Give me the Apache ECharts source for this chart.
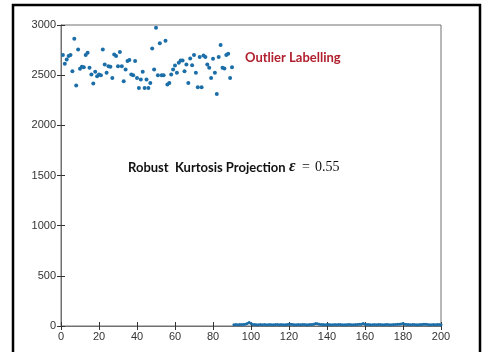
<!DOCTYPE html>
<html>
<head>
<meta charset="utf-8">
<script src="https://cdn.jsdelivr.net/npm/echarts@6/dist/echarts.min.js"></script>
<style>html,body{margin:0;padding:0;background:#fff}#c{width:486px;height:352px}</style>
</head>
<body>
<div id="c"></div>
<script>
// Outlier group: samples 1..90
const outlierValues = [2700, 2613, 2657, 2690, 2700, 2540, 2863, 2397, 2757, 2563, 2583, 2580, 2700, 2723, 2573, 2507, 2417, 2533, 2490, 2507, 2500, 2757, 2607, 2523, 2590, 2583, 2473, 2707, 2690, 2590, 2730, 2590, 2440, 2557, 2640, 2650, 2507, 2500, 2640, 2473, 2373, 2457, 2533, 2373,
  2457, 2373, 2423, 2767, 2557, 2973, 2500, 2817, 2500, 2500, 2843, 2407, 2423, 2507, 2557, 2597, 2523, 2623, 2647, 2647, 2540, 2607, 2423, 2667, 2600, 2700, 2523, 2380, 2680, 2380, 2697, 2680, 2607, 2573, 2473, 2663, 2523, 2313, 2680, 2800, 2573, 2567, 2700, 2713, 2473, 2580];
// Regular group: samples 91..200
const regularValues = [12, 14, 13, 15, 14, 16, 18, 25, 35, 24, 16, 14, 13, 12, 14, 13, 15, 13, 12, 14,
  13, 12, 14, 15, 13, 14, 12, 13, 15, 18, 17, 14, 13, 12, 14, 13, 15, 14, 13, 12,
  14, 15, 17, 26, 22, 17, 15, 14, 13, 15, 14, 13, 12, 14, 13, 15, 14, 13, 12, 13,
  14, 15, 13, 12, 14, 15, 17, 18, 25, 18, 15, 14, 13, 12, 14, 13, 15, 14, 13, 12,
  14, 15, 13, 12, 14, 15, 17, 18, 20, 24, 18, 15, 14, 13, 15, 14, 13, 12, 14, 15,
  18, 17, 14, 13, 12, 14, 13, 15, 14, 13];
const xTicks = [0, 20, 40, 60, 80, 100, 120, 140, 160, 180, 200];
const yTicks = [0, 500, 1000, 1500, 2000, 2500, 3000];

const outlierData = outlierValues.map((v, i) => [i + 1, v]);
const regularData = regularValues.map((v, i) => [outlierValues.length + 1 + i, v]);

const chart = echarts.init(document.getElementById('c'), null, {renderer: 'canvas'});
const axisLineColor = '#707070';
const labelStyle = {color: '#333', fontFamily: 'Liberation Sans, Arial, sans-serif', fontSize: 11};
const tick = {show: true, inside: true, length: 4, lineStyle: {color: '#333'}};
chart.setOption({
  animation: false,
  grid: {left: 61, top: 25, right: 45, bottom: 26, containLabel: false,
    show: true, borderColor: axisLineColor, borderWidth: 1, backgroundColor: 'transparent'},
  xAxis: [
    {type: 'value', min: xTicks[0], max: xTicks[xTicks.length - 1], interval: 20, position: 'bottom',
      axisLine: {show: true, lineStyle: {color: axisLineColor, width: 1}},
      axisTick: tick,
      axisLabel: Object.assign({margin: 5, formatter: v => String(v)}, labelStyle),
      splitLine: {show: false}},
    {type: 'value', min: xTicks[0], max: xTicks[xTicks.length - 1], interval: 20, position: 'top',
      axisLine: {show: true, lineStyle: {color: axisLineColor, width: 1}},
      axisTick: tick,
      axisLabel: {show: false}, splitLine: {show: false}}
  ],
  yAxis: [
    {type: 'value', min: yTicks[0], max: yTicks[yTicks.length - 1], interval: 500, position: 'left',
      axisLine: {show: true, lineStyle: {color: axisLineColor, width: 1}},
      axisTick: tick,
      axisLabel: Object.assign({margin: 5, formatter: v => String(v)}, labelStyle),
      splitLine: {show: false}},
    {type: 'value', min: yTicks[0], max: yTicks[yTicks.length - 1], interval: 500, position: 'right',
      axisLine: {show: true, lineStyle: {color: axisLineColor, width: 1}},
      axisTick: tick,
      axisLabel: {show: false}, splitLine: {show: false}}
  ],
  series: [
    {type: 'scatter', data: outlierData, symbol: 'circle', symbolSize: 4,
      itemStyle: {color: '#1b6ea8', opacity: 1}},
    {type: 'scatter', data: regularData, symbol: 'circle', symbolSize: 3,
      itemStyle: {color: '#1b6ea8', opacity: 1}}
  ],
  graphic: [
    {type: 'rect', shape: {x: 13, y: 5, width: 467, height: 370},
      style: {fill: 'none', stroke: '#000', lineWidth: 2.5}, silent: true},
    {type: 'text', left: 245, top: 51,
      style: {text: 'Outlier Labelling', fill: '#b0202e', font: 'bold 13px Lato, sans-serif'}},
    {type: 'text', left: 128, top: 161,
      style: {text: 'Robust  Kurtosis Projection', fill: '#111', font: 'bold 13px Lato, sans-serif'}},
    {type: 'text', left: 289, top: 159,
      style: {text: 'ε', fill: '#111', font: 'italic bold 16px "Liberation Serif", serif'}},
    {type: 'text', left: 302, top: 160,
      style: {text: '=', fill: '#111', font: '14px "Liberation Serif", serif'}},
    {type: 'text', left: 315, top: 160,
      style: {text: '0.55', fill: '#111', font: '14px "Liberation Serif", serif'}}
  ]
});
</script>
</body>
</html>
